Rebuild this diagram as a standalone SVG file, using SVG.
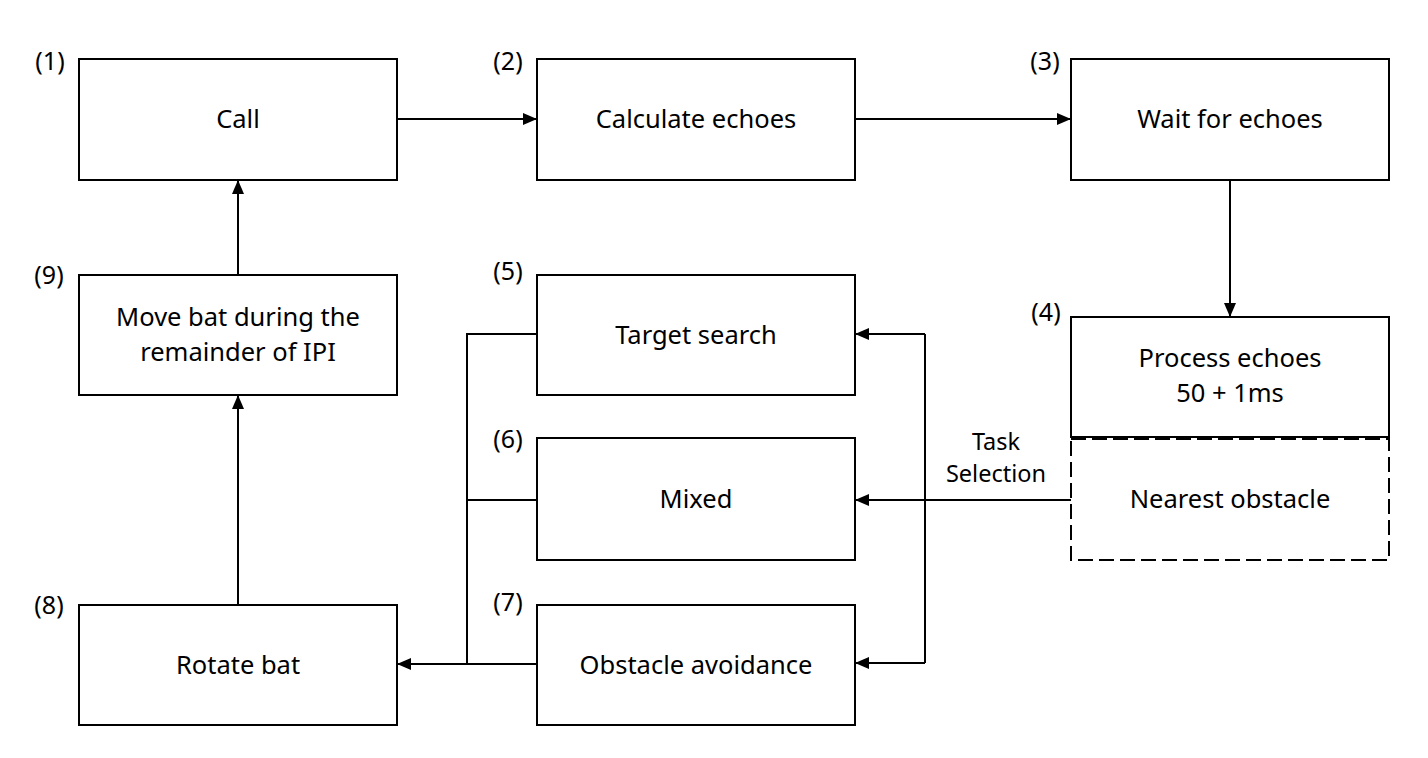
<svg xmlns="http://www.w3.org/2000/svg" width="1428" height="758" viewBox="0 0 1428 758">
<style>
.box{fill:#fff;stroke:#000;stroke-width:2}
.dash{fill:#fff;stroke:#000;stroke-width:2;stroke-dasharray:15 6}
.t{font-family:"Noto Sans","Open Sans",sans-serif;font-size:25.5px;fill:#000;text-anchor:middle}
.lbl{font-family:"Noto Sans","Open Sans",sans-serif;font-size:25px;fill:#000;text-anchor:middle}
.ts{font-family:"Noto Sans","Open Sans",sans-serif;font-size:23.5px;fill:#000;text-anchor:middle}
.c{fill:none;stroke:#000;stroke-width:2}
</style>
<defs>
<marker id="ah" viewBox="0 0 14 12" refX="14" refY="6" markerWidth="14" markerHeight="12" markerUnits="userSpaceOnUse" orient="auto">
<path d="M0,0 L14,6 L0,12 Z" fill="#000"/>
</marker>
</defs>
<rect width="1428" height="758" fill="#fff"/>
<g id="connectors">
<line class="c" x1="397" y1="119" x2="537" y2="119" marker-end="url(#ah)"/>
<line class="c" x1="855" y1="119" x2="1071" y2="119" marker-end="url(#ah)"/>
<line class="c" x1="1230" y1="180" x2="1230" y2="317" marker-end="url(#ah)"/>
<line class="c" x1="1071" y1="500" x2="855" y2="500" marker-end="url(#ah)"/>
<polyline class="c" points="925,334 925,663"/>
<line class="c" x1="925" y1="334" x2="855" y2="334" marker-end="url(#ah)"/>
<line class="c" x1="925" y1="663" x2="855" y2="663" marker-end="url(#ah)"/>
<polyline class="c" points="537,334 467,334 467,664"/>
<line class="c" x1="537" y1="500" x2="467" y2="500"/>
<line class="c" x1="537" y1="664" x2="397" y2="664" marker-end="url(#ah)"/>
<line class="c" x1="238" y1="605" x2="238" y2="395" marker-end="url(#ah)"/>
<line class="c" x1="238" y1="275" x2="238" y2="180" marker-end="url(#ah)"/>
</g>
<g id="n1"><rect class="box" x="79" y="59" width="318" height="121"/><text class="t" x="238" y="128">Call</text><text class="lbl" x="50" y="70">(1)</text></g>
<g id="n2"><rect class="box" x="537" y="59" width="318" height="121"/><text class="t" x="696" y="128">Calculate echoes</text><text class="lbl" x="508" y="70">(2)</text></g>
<g id="n3"><rect class="box" x="1071" y="59" width="318" height="121"/><text class="t" x="1230" y="128">Wait for echoes</text><text class="lbl" x="1045" y="70">(3)</text></g>
<g id="n4"><rect class="box" x="1071" y="317" width="318" height="120"/><text class="t" x="1230" y="367">Process echoes</text><text class="t" x="1230" y="402">50 + 1ms</text><text class="lbl" x="1046" y="321">(4)</text></g>
<g id="n4b"><rect class="dash" x="1071" y="439" width="318" height="121"/><text class="t" x="1230" y="508">Nearest obstacle</text></g>
<g id="task"><text class="ts" x="996" y="450">Task</text><text class="ts" x="996" y="482">Selection</text></g>
<g id="n5"><rect class="box" x="537" y="275" width="318" height="120"/><text class="t" x="696" y="344">Target search</text><text class="lbl" x="508" y="280">(5)</text></g>
<g id="n6"><rect class="box" x="537" y="438" width="318" height="122"/><text class="t" x="696" y="508">Mixed</text><text class="lbl" x="508" y="448">(6)</text></g>
<g id="n7"><rect class="box" x="537" y="605" width="318" height="120"/><text class="t" x="696" y="674">Obstacle avoidance</text><text class="lbl" x="508" y="611">(7)</text></g>
<g id="n8"><rect class="box" x="79" y="605" width="318" height="120"/><text class="t" x="238" y="674">Rotate bat</text><text class="lbl" x="49" y="614">(8)</text></g>
<g id="n9"><rect class="box" x="79" y="275" width="318" height="120"/><text class="t" x="238" y="326">Move bat during the</text><text class="t" x="238" y="361">remainder of IPI</text><text class="lbl" x="49" y="284">(9)</text></g>
</svg>
